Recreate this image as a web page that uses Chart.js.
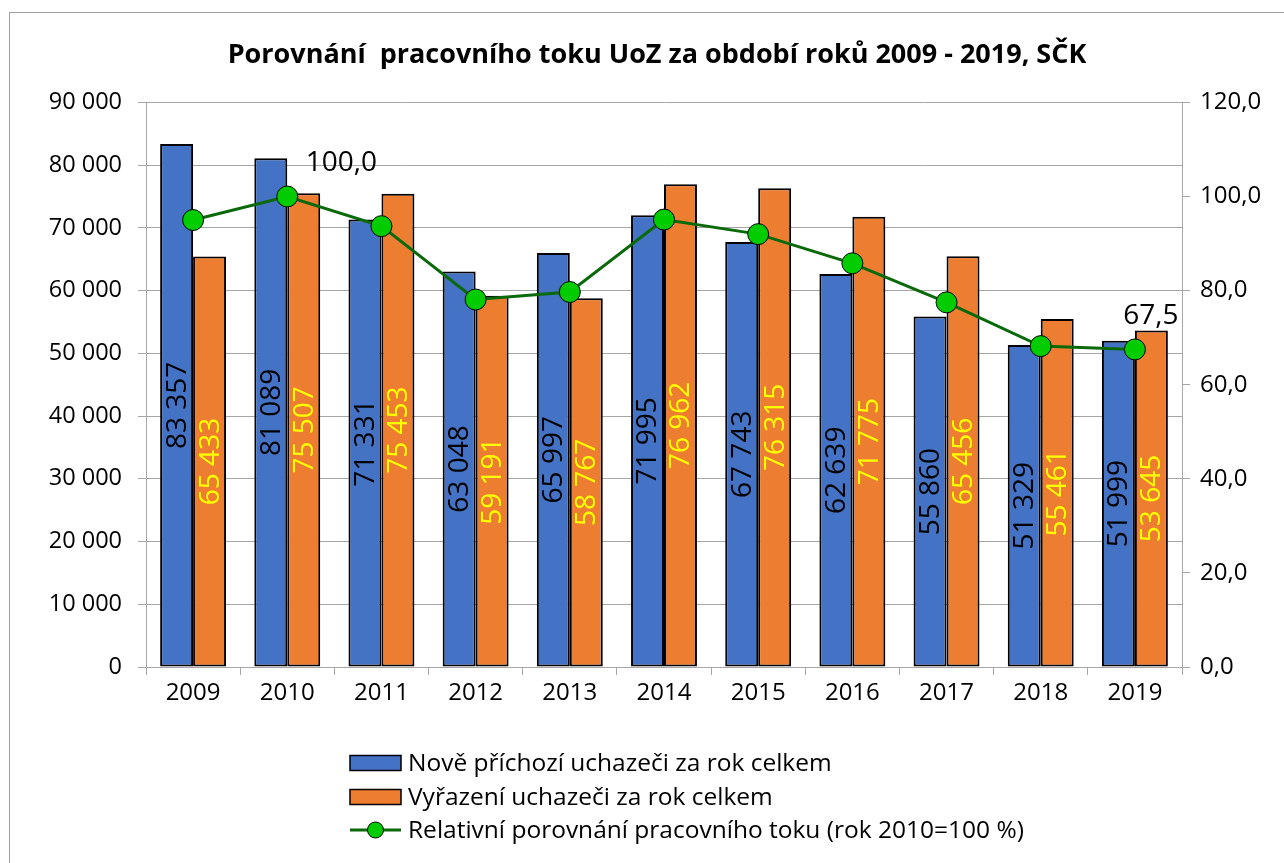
<!DOCTYPE html>
<html>
<head>
<meta charset="utf-8">
<script src="https://cdn.jsdelivr.net/npm/chart.js@4/dist/chart.umd.min.js"></script>
<style>
  html, body { margin: 0; padding: 0; background: #ffffff; }
  #wrap { width: 1284px; height: 863px; position: relative; }
</style>
</head>
<body>
<div id="wrap"><canvas id="c" width="1284" height="863"></canvas></div>
<script>
const chartTitle = 'Porovnání  pracovního toku UoZ za období roků 2009 - 2019, SČK';
const categories = ['2009', '2010', '2011', '2012', '2013', '2014', '2015', '2016', '2017', '2018', '2019'];
const seriesNames = [
  'Nově příchozí uchazeči za rok celkem',
  'Vyřazení uchazeči za rok celkem',
  'Relativní porovnání pracovního toku (rok 2010=100 %)'
];
const newApplicants = [83357, 81089, 71331, 63048, 65997, 71995, 67743, 62639, 55860, 51329, 51999];
const removedApplicants = [65433, 75507, 75453, 59191, 58767, 76962, 76315, 71775, 65456, 55461, 53645];
const relativeFlow = [95.0, 100.0, 93.7, 78.1, 79.7, 95.1, 92.0, 85.8, 77.5, 68.2, 67.5];
const labelledLinePoints = [1, 10];
const leftAxis = { min: 0, max: 90000, step: 10000 };
const rightAxis = { min: 0, max: 120, step: 20 };

const FONT = "'Open Sans', sans-serif";
const fmtThousands = v => String(Math.round(v)).replace(/\B(?=(\d{3})+(?!\d))/g, ' ');
const fmtDecimal = v => Number(v).toFixed(1).replace('.', ',');

const BLUE = '#4472C4', ORANGE = '#ED7D31', GREEN_LINE = '#0A6A0A', GREEN_DOT = '#00CC00';
const GRID = '#A6A6A6';

const framePlugin = {
  id: 'frame',
  beforeDraw(chart) {
    const ctx = chart.ctx;
    ctx.save();
    ctx.fillStyle = '#ffffff';
    ctx.fillRect(0, 0, chart.width, chart.height);
    ctx.strokeStyle = '#A0A0A0';
    ctx.lineWidth = 1;
    ctx.strokeRect(9.5, 12.5, chart.width + 20, chart.height + 20);
    ctx.restore();
  }
};

const labelPlugin = {
  id: 'valueLabels',
  afterDatasetsDraw(chart) {
    const ctx = chart.ctx;
    ctx.save();
    [0, 1].forEach(di => {
      const meta = chart.getDatasetMeta(di);
      const color = di === 0 ? '#000000' : '#FFFF00';
      meta.data.forEach((el, i) => {
        const v = chart.data.datasets[di].data[i];
        const cx = el.x;
        const cy = (el.y + el.base) / 2;
        ctx.save();
        ctx.translate(cx, cy);
        ctx.rotate(-Math.PI / 2);
        ctx.font = '28px ' + FONT;
        ctx.fillStyle = color;
        ctx.textAlign = 'center';
        ctx.textBaseline = 'middle';
        ctx.fillText(fmtThousands(v), 0, 1);
        ctx.restore();
      });
    });
    const lineMeta = chart.getDatasetMeta(2);
    labelledLinePoints.forEach((i, k) => {
      const el = lineMeta.data[i];
      const v = chart.data.datasets[2].data[i];
      ctx.font = '28px ' + FONT;
      ctx.fillStyle = '#000000';
      ctx.textAlign = 'center';
      ctx.textBaseline = 'middle';
      const dx = k === 0 ? 54 : 16;
      ctx.fillText(fmtDecimal(v), el.x + dx, el.y - 33);
    });
    ctx.restore();
  }
};

const legendPlugin = {
  id: 'customLegend',
  afterDraw(chart) {
    const ctx = chart.ctx;
    const x0 = 350, boxW = 51, boxH = 15, textX = 408;
    const rows = [763, 797, 830];
    ctx.save();
    ctx.font = '24.5px ' + FONT;
    ctx.textBaseline = 'middle';
    ctx.textAlign = 'left';
    chart.data.datasets.forEach((ds, i) => {
      const y = rows[i];
      if (i < 2) {
        ctx.fillStyle = ds.backgroundColor;
        ctx.fillRect(x0, y - boxH / 2, boxW, boxH);
        ctx.strokeStyle = '#000000';
        ctx.lineWidth = 1.5;
        ctx.strokeRect(x0, y - boxH / 2, boxW, boxH);
      } else {
        ctx.strokeStyle = ds.borderColor;
        ctx.lineWidth = 3;
        ctx.beginPath();
        ctx.moveTo(x0, y);
        ctx.lineTo(x0 + boxW, y);
        ctx.stroke();
        ctx.beginPath();
        ctx.arc(x0 + boxW / 2, y, 8, 0, Math.PI * 2);
        ctx.fillStyle = ds.pointBackgroundColor;
        ctx.fill();
        ctx.strokeStyle = '#000000';
        ctx.lineWidth = 1;
        ctx.stroke();
      }
      ctx.fillStyle = '#000000';
      ctx.fillText(ds.label, textX, y + 1);
    });
    ctx.restore();
  }
};

new Chart(document.getElementById('c'), {
  data: {
    labels: categories,
    datasets: [
      {
        type: 'bar', label: seriesNames[0], data: newApplicants, yAxisID: 'y',
        backgroundColor: BLUE, borderColor: '#000000', borderWidth: 2, borderSkipped: false,
        categoryPercentage: 0.70, barPercentage: 1.0, order: 2
      },
      {
        type: 'bar', label: seriesNames[1], data: removedApplicants, yAxisID: 'y',
        backgroundColor: ORANGE, borderColor: '#000000', borderWidth: 2, borderSkipped: false,
        categoryPercentage: 0.70, barPercentage: 1.0, order: 2
      },
      {
        type: 'line', label: seriesNames[2], data: relativeFlow, yAxisID: 'y2',
        borderColor: GREEN_LINE, borderWidth: 3, pointRadius: 10.5, pointHoverRadius: 10.5,
        pointBackgroundColor: GREEN_DOT, pointBorderColor: '#000000', pointBorderWidth: 1,
        tension: 0, fill: false, order: 0
      }
    ]
  },
  options: {
    responsive: false,
    animation: false,
    devicePixelRatio: 1,
    layout: { padding: { left: 30, right: 0, top: 0, bottom: 136 } },
    plugins: {
      legend: { display: false },
      tooltip: { enabled: false },
      title: {
        display: true, text: chartTitle, color: '#000000',
        font: { family: FONT, size: 27, weight: 'bold', lineHeight: 1.2 },
        padding: { top: 39, bottom: 31 }
      }
    },
    scales: {
      x: {
        offset: true,
        grid: { display: true, drawOnChartArea: false, offset: true, color: GRID, tickLength: 8 },
        border: { display: true, color: GRID, width: 1 },
        ticks: { color: '#000000', font: { family: FONT, size: 24 }, padding: 4, maxRotation: 0 },
        afterFit(s) { s.height = 60; }
      },
      y: {
        position: 'left', min: leftAxis.min, max: leftAxis.max,
        ticks: { stepSize: leftAxis.step, color: '#000000', font: { family: FONT, size: 23.5 }, padding: 16,
                 callback: v => fmtThousands(v) },
        grid: { color: GRID, tickLength: 8, lineWidth: 1 },
        border: { display: true, color: GRID, width: 1 },
        afterFit(s) { s.width = 116; }
      },
      y2: {
        position: 'right', min: rightAxis.min, max: rightAxis.max,
        ticks: { stepSize: rightAxis.step, color: '#000000', font: { family: FONT, size: 24 }, padding: 10,
                 callback: v => fmtDecimal(v) },
        grid: { drawOnChartArea: false, color: GRID, tickLength: 8 },
        border: { display: true, color: GRID, width: 1 },
        afterFit(s) { s.width = 102; }
      }
    }
  },
  plugins: [framePlugin, labelPlugin, legendPlugin]
});
</script>
</body>
</html>
